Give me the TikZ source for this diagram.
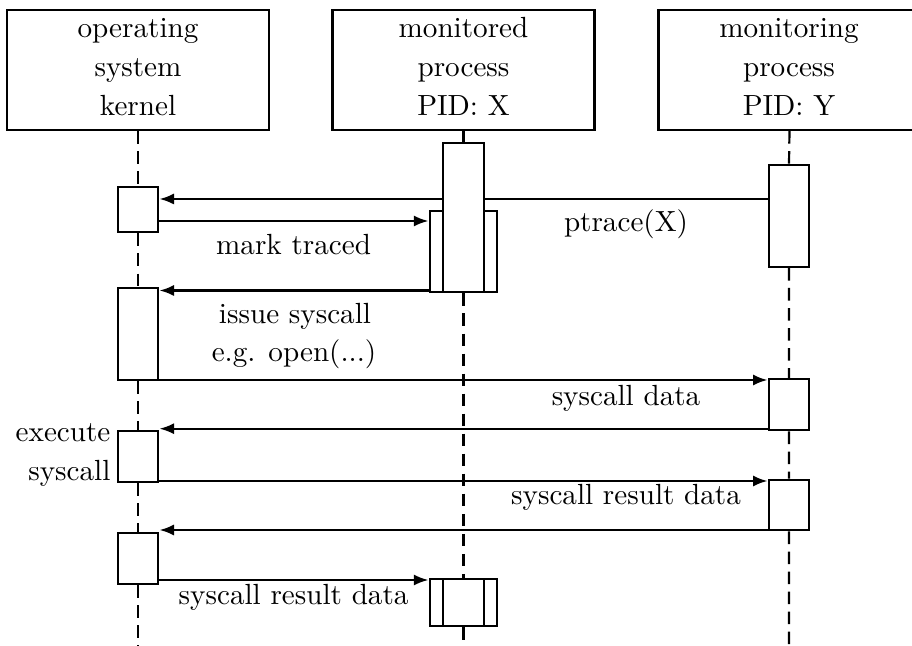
\documentclass[tikz,border=0pt]{standalone}
\usetikzlibrary{arrows.meta}
\pgfdeclarelayer{back}
\pgfsetlayers{back,main}
\tikzset{
  headbox/.style={draw, line width=0.8pt, minimum width=89.87pt, minimum height=41.16pt, inner sep=0pt},
  actbox/.style={draw, line width=0.8pt, fill=white, inner sep=0pt, minimum width=13.9pt},
  widebox/.style={actbox, minimum width=23.2pt},
  lifeline/.style={line width=0.75pt, dash pattern=on 4.3pt off 2.57pt},
  msg/.style={line width=0.8pt, -{Latex[length=5pt,width=3.8pt]}},
  txt/.style={anchor=base, inner sep=0pt},
}
\begin{document}
\begin{tikzpicture}[x=0.343pt, y=-0.343pt, line width=0.8pt]
\useasboundingbox (0,0) rectangle (912,646);

% participant headers
\node[headbox] (kern) at (138,70) {};
\node[headbox] (mon) at (463.5,70) {};
\node[headbox] (tracer) at (789.5,70) {};

\node[txt] (kernA) at (138,37.3) {operating};
\node[txt] (kernB) at (138,76.5) {system};
\node[txt] (kernC) at (138,115.8) {kernel};
\node[txt] (monA) at (463.5,37.3) {monitored};
\node[txt] (monB) at (463.5,76.5) {process};
\node[txt] (monC) at (463.5,115.8) {PID: X};
\node[txt] (tracerA) at (789,37.3) {monitoring};
\node[txt] (tracerB) at (789,76.5) {process};
\node[txt] (tracerC) at (789,115.8) {PID: Y};

% activations: kernel
\node[actbox, minimum height=15.64pt] (k1) at (138,209.5) {};
\node[actbox, minimum height=31.45pt] (k2) at (138,334.15) {};
\node[actbox, minimum height=17.39pt] (k3) at (138,456.65) {};
\node[actbox, minimum height=17.49pt] (k4) at (138,558.5) {};

% activations: monitoring process
\node[actbox, minimum height=34.99pt] (m1) at (789,215.8) {};
\node[actbox, minimum height=17.6pt] (m2) at (789,404.65) {};
\node[actbox, minimum height=17.36pt] (m3) at (789,505) {};

% activations: monitored process (nested)
\node[widebox, minimum height=28pt] (p2) at (463.5,251.5) {};
\node[actbox, minimum height=51.1pt] (p1) at (463.5,217.8) {};
\node[widebox, minimum height=16.02pt] (p3) at (463.5,602.65) {};
\node[actbox, minimum height=16.02pt] (p4) at (463.5,602.65) {};

% lifeline ends
\coordinate (kernEnd) at (138,650);
\coordinate (monEnd) at (463.5,650);
\coordinate (tracerEnd) at (789,650);

\begin{pgfonlayer}{back}
  \draw[lifeline] (kern.south) -- (k1.north) (k1.south) -- (k2.north)
    (k2.south) -- (k3.north) (k3.south) -- (k4.north) (k4.south) -- (kernEnd);
  \draw[lifeline] (mon.south) -- (p1.north) (p1.south) -- (p3.north)
    (p3.south) -- (monEnd);
  \draw[lifeline] (tracer.south) -- (m1.north) (m1.south) -- (m2.north)
    (m2.south) -- (m3.north) (m3.south) -- (tracerEnd);

  % messages
  \draw[msg] (m1.west |- 0,199) -- (k1.east |- 0,199);
  \draw[msg] (k1.east |- 0,221) -- (p2.west |- 0,221);
  \draw[msg] (p2.west |- 0,290.5) -- (k2.east |- 0,290.5);
  \draw[msg] (k2.east |- 0,380) -- (m2.west |- 0,380);
  \draw[msg] (m2.west |- 0,428.7) -- (k3.east |- 0,428.7);
  \draw[msg] (k3.east |- 0,481) -- (m3.west |- 0,481);
  \draw[msg] (m3.west |- 0,530) -- (k4.east |- 0,530);
  \draw[msg] (k4.east |- 0,580) -- (p3.west |- 0,580);
\end{pgfonlayer}

% message labels
\node[txt] (lPtrace) at (626,231.7) {ptrace(X)};
\node[txt] (lMark) at (293.6,255) {mark traced};
\node[txt] (lIssue) at (295,323.3) {issue syscall};
\node[txt] (lOpen) at (294,361.7) {e.g. open(...)};
\node[txt] (lData) at (626,406) {syscall data};
\node[txt, anchor=base east] (lExecA) at (111,441.5) {execute};
\node[txt, anchor=base east] (lExecB) at (111,480.5) {syscall};
\node[txt] (lRes) at (626,505) {syscall result data};
\node[txt] (lRes2) at (293.6,604) {syscall result data};
\end{tikzpicture}
\end{document}
